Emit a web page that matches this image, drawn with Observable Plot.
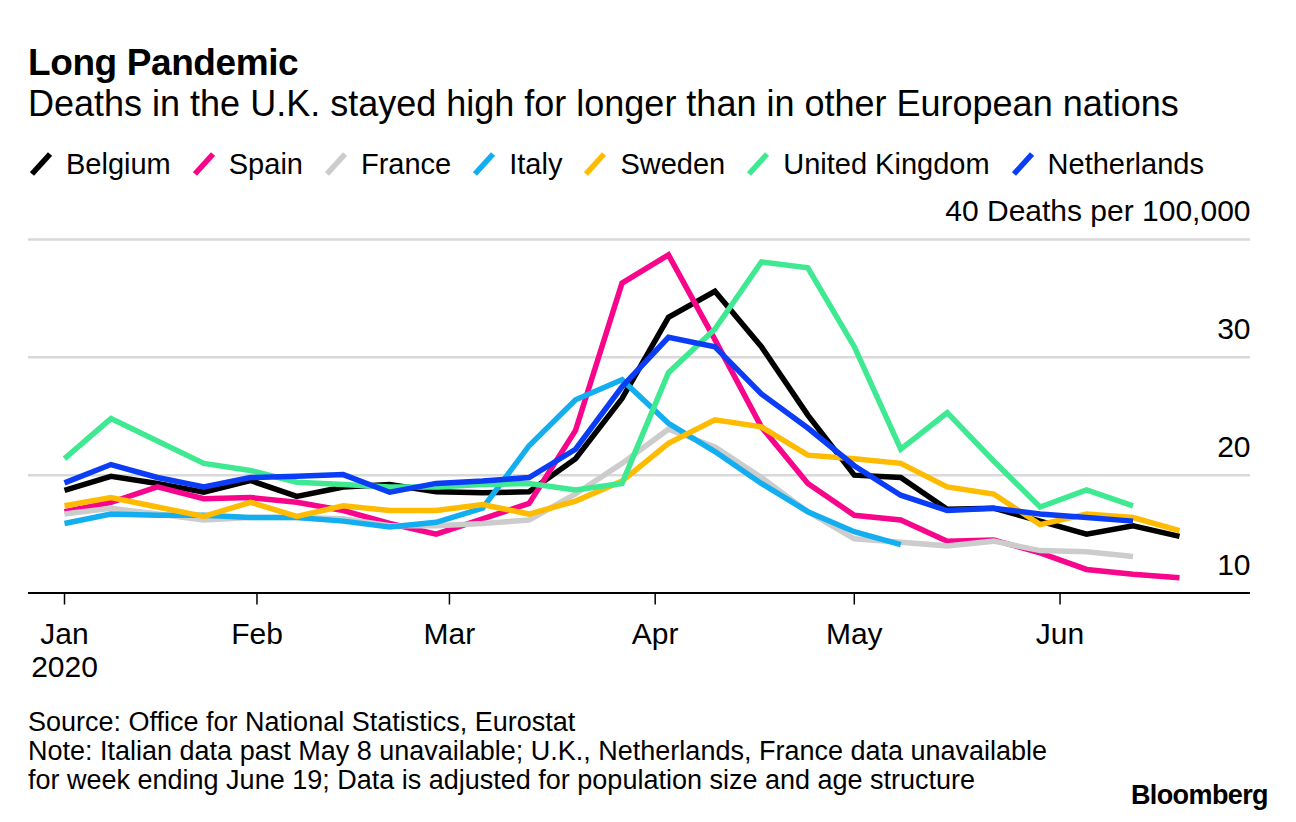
<!DOCTYPE html>
<html>
<head>
<meta charset="utf-8">
<script src="https://cdn.jsdelivr.net/npm/d3@7"></script>
<script src="https://cdn.jsdelivr.net/npm/@observablehq/plot@0.6"></script>
<style>
html, body { margin: 0; padding: 0; background: #fff; }
body { width: 1296px; height: 822px; position: relative; overflow: hidden; font-family: "Liberation Sans", Arial, sans-serif; color: #000; }
.t { position: absolute; white-space: nowrap; }
#title { left: 28px; top: 44px; font-size: 37px; line-height: 37px; font-weight: bold; letter-spacing: -0.4px; }
#subtitle { left: 28px; top: 86px; font-size: 36px; line-height: 36px; }
#legend { left: 30px; top: 149px; height: 30px; display: flex; align-items: center; font-size: 29px; line-height: 30px; }
.item { display: flex; align-items: center; margin-right: 22px; }
.item svg { margin-right: 14px; display: block; }
#chart { position: absolute; left: 0; top: 190px; }
.foot { left: 28px; font-size: 27px; line-height: 27px; }
#logo { right: 28px; top: 782px; font-size: 27px; line-height: 27px; font-weight: bold; letter-spacing: -0.6px; }
</style>
</head>
<body>
<div class="t" id="title">Long Pandemic</div>
<div class="t" id="subtitle">Deaths in the U.K. stayed high for longer than in other European nations</div>
<div class="t" id="legend"></div>
<div id="chart"></div>
<div class="t foot" style="top:709px">Source: Office for National Statistics, Eurostat</div>
<div class="t foot" style="top:738px">Note: Italian data past May 8 unavailable; U.K., Netherlands, France data unavailable</div>
<div class="t foot" style="top:767px">for week ending June 19; Data is adjusted for population size and age structure</div>
<div class="t" id="logo">Bloomberg</div>
<script>
// Week-ending dates
const weeks = ["2020-01-03","2020-01-10","2020-01-17","2020-01-24","2020-01-31","2020-02-07","2020-02-14","2020-02-21","2020-02-28","2020-03-06","2020-03-13","2020-03-20","2020-03-27","2020-04-03","2020-04-10","2020-04-17","2020-04-24","2020-05-01","2020-05-08","2020-05-15","2020-05-22","2020-05-29","2020-06-05","2020-06-12","2020-06-19"];

// Deaths per 100,000
const belgium     = [18.7, 19.9, 19.3, 18.55, 19.55, 18.2, 19.0, 19.2, 18.6, 18.5, 18.6, 21.4, 26.5, 33.4, 35.6, 30.9, 25.1, 20.0, 19.8, 17.1, 17.2, 16.1, 15.0, 15.7, 14.8];
const spain       = [16.9, 17.7, 19.0, 18.0, 18.1, 17.7, 17.0, 15.9, 15.0, 16.3, 17.6, 23.8, 36.3, 38.7, 31.5, 24.1, 19.3, 16.6, 16.2, 14.4, 14.5, 13.4, 12.0, 11.6, 11.3];
const france      = [16.7, 17.2, 16.7, 16.2, 16.4, 16.4, 16.3, 15.7, 15.7, 15.9, 16.2, 18.4, 21.0, 23.9, 22.4, 19.8, 16.9, 14.6, 14.3, 14.0, 14.4, 13.6, 13.5, 13.1, null];
const italy       = [15.9, 16.7, 16.6, 16.6, 16.4, 16.4, 16.1, 15.6, 16.0, 17.2, 22.5, 26.4, 28.1, 24.4, 22.0, 19.3, 16.9, 15.2, 14.1, null, null, null, null, null, null];
const sweden      = [17.4, 18.1, 17.3, 16.5, 17.7, 16.5, 17.4, 17.0, 17.0, 17.5, 16.7, 17.8, 19.5, 22.7, 24.7, 24.1, 21.7, 21.4, 21.0, 19.0, 18.4, 15.8, 16.7, 16.4, 15.3];
const uk          = [21.4, 24.8, 22.9, 21.0, 20.4, 19.4, 19.2, 19.0, 19.0, 19.2, 19.3, 18.75, 19.3, 28.7, 32.4, 38.1, 37.6, 30.9, 22.2, 25.3, 21.2, 17.3, 18.75, 17.4, null];
const netherlands = [19.35, 20.9, 19.8, 19.0, 19.8, 19.9, 20.05, 18.55, 19.3, 19.5, 19.8, 22.2, 27.5, 31.7, 30.9, 26.9, 24.0, 20.8, 18.3, 17.0, 17.2, 16.7, 16.4, 16.1, null];

const countries = ["Belgium", "Spain", "France", "Italy", "Sweden", "United Kingdom", "Netherlands"];
const colors = ["#000000", "#f7068b", "#cccccc", "#12aef0", "#ffbb00", "#3fe992", "#0b3cf6"];
const seriesValues = [belgium, spain, france, italy, sweden, uk, netherlands];

const xTicks = ["2020-01-03", "2020-02-01", "2020-03-01", "2020-04-01", "2020-05-01", "2020-06-01"];
const xTickLabels = ["Jan\n2020", "Feb", "Mar", "Apr", "May", "Jun"];
const yTicks = [10, 20, 30, 40];
const yTickLabels = ["10", "20", "30", "40 Deaths per 100,000"];

// Long-format table
const rows = [];
countries.forEach((c, i) => seriesValues[i].forEach((v, j) => {
  if (v != null) rows.push({country: c, date: new Date(weeks[j]), value: v});
}));
const tickDates = xTicks.map(d => new Date(d));

// Legend
const legend = document.getElementById("legend");
countries.forEach((c, i) => {
  const item = document.createElement("div");
  item.className = "item";
  item.innerHTML = `<svg width="22" height="24" viewBox="0 0 22 24"><line x1="2" y1="22" x2="20" y2="2" stroke="${colors[i]}" stroke-width="5.5"/></svg><span>${c}</span>`;
  legend.appendChild(item);
});

const chart = Plot.plot({
  width: 1296,
  height: 500,
  marginLeft: 28,
  marginRight: 46,
  marginTop: 49,
  marginBottom: 97.5,
  x: {type: "utc", domain: [new Date(weeks[0]), new Date(weeks[weeks.length - 1])], insetLeft: 36, insetRight: 71},
  y: {domain: [10, 40], axis: null},
  color: {domain: countries, range: colors},
  style: {fontFamily: "Liberation Sans, Arial, sans-serif", fontSize: "30px", color: "#000", background: "#fff", overflow: "visible"},
  marks: [
    Plot.ruleY([20, 30, 40], {stroke: "#d9d9d9", strokeWidth: 2.5}),
    Plot.line(rows, {x: "date", y: "value", z: "country", stroke: "country", strokeWidth: 5.5, strokeLinejoin: "miter", strokeLinecap: "butt", strokeMiterlimit: 10}),
    Plot.ruleY([10], {stroke: "#000", strokeWidth: 2}),
    Plot.axisX({
      ticks: tickDates,
      tickFormat: d => xTickLabels[tickDates.findIndex(t => +t === +d)],
      tickSize: 12, tickPadding: 16, fontSize: 30, lineHeight: 1.1,
      stroke: "#000", strokeWidth: 1.5, label: null
    }),
    Plot.text(yTicks, {y: d => d, text: (d, i) => yTickLabels[i], frameAnchor: "right", textAnchor: "end", dy: -28, fontSize: 30})
  ]
});
document.getElementById("chart").appendChild(chart);
</script>
</body>
</html>
